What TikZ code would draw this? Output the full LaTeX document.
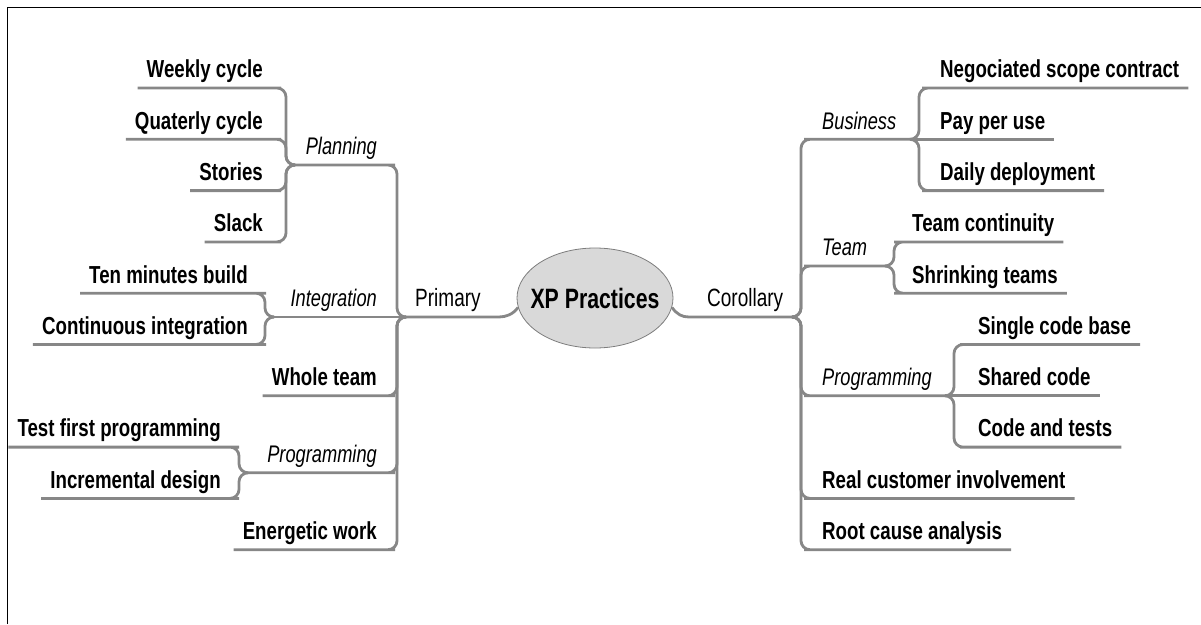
\documentclass[tikz,border=0pt]{standalone}
\usepackage{fontspec}
\setmainfont{Liberation Sans}[FakeStretch=0.76]
\usetikzlibrary{shapes.geometric}
\definecolor{linegray}{RGB}{135,135,135}
\definecolor{hubfill}{RGB}{217,217,217}
\definecolor{hubdraw}{RGB}{125,125,125}
\newcommand{\leaffont}{\fontsize{24.6}{28}\selectfont\bfseries}
\newcommand{\branchfont}{\fontsize{24}{28}\selectfont\itshape}
\newcommand{\firstfont}{\fontsize{25}{29}\selectfont}
\newcommand{\hubfont}{\fontsize{28}{32}\selectfont\bfseries}
\tikzstyle{leaf} = [font=\leaffont, inner xsep=9pt, inner ysep=5pt, text height=17pt, text depth=5pt]
\tikzstyle{branch} = [leaf, font=\branchfont]
\tikzstyle{first_level} = [leaf, font=\firstfont]
\tikzstyle{link} = [draw=linegray, line width=2.8pt, rounded corners=9pt]
\tikzstyle{hub} = [ellipse, draw=hubdraw, thick, fill=hubfill, minimum width=156pt, minimum height=100pt, inner sep=0pt, font=\hubfont]

\begin{document}
\begin{tikzpicture}[x=1pt,y=-1pt]
\useasboundingbox (0,0) rectangle (1201,624);
\draw[line width=1.6pt] (7.5,624) -- (7.5,7.5) -- (1201,7.5);

\node[hub] (xp) at (595,298) {\makebox[0pt]{XP Practices}};

% primary practices
\coordinate (primary_j) at (406,317);
\node[first_level,anchor=south west] (primary) at (406,317) {Primary};
\draw[link] (primary_j) -- (primary.south east) .. controls +(16,0) and +(-5,7) .. (xp.187);

\coordinate (planning_j) at (295,165);
\node[branch,anchor=south east] (planning) at (386,165) {Planning};
\draw[link] (primary_j) -- ++(-9,0) |- (planning.south east) -- (planning_j);
\node[leaf,anchor=south east] (weekly) at (272,88) {Weekly cycle};
\node[leaf,anchor=south east] (quaterly) at (272,139.3) {Quaterly cycle};
\node[leaf,anchor=south east] (stories) at (272,190.6) {Stories};
\node[leaf,anchor=south east] (slack) at (272,241.9) {Slack};
\draw[link] (planning_j) -- ++(-9,0) |- (weekly.south east) -- (weekly.south west);
\draw[link] (planning_j) -- ++(-9,0) |- (quaterly.south east) -- (quaterly.south west);
\draw[link] (planning_j) -- ++(-9,0) |- (stories.south east) -- (stories.south west);
\draw[link] (planning_j) -- ++(-9,0) |- (slack.south east) -- (slack.south west);

\coordinate (integration_j) at (274,317);
\node[branch,anchor=south east] (integration) at (386,317) {Integration};
\draw[link] (primary_j) -- (integration.south east) -- (integration_j);
\node[leaf,anchor=south east] (ten_minutes) at (257,293.2) {Ten minutes build};
\node[leaf,anchor=south east] (continuous) at (257,344.5) {Continuous integration};
\draw[link] (integration_j) -- ++(-9,0) |- (ten_minutes.south east) -- (ten_minutes.south west);
\draw[link] (integration_j) -- ++(-9,0) |- (continuous.south east) -- (continuous.south west);

\node[leaf,anchor=south east] (whole_team) at (386,395.8) {Whole team};
\draw[link] (primary_j) -- ++(-9,0) |- (whole_team.south east) -- (whole_team.south west);

\coordinate (programming_l_j) at (248,472.8);
\node[branch,anchor=south east] (programming_l) at (386,472.8) {Programming};
\draw[link] (primary_j) -- ++(-9,0) |- (programming_l.south east) -- (programming_l_j);
\node[leaf,anchor=south east] (test_first) at (230,447.1) {Test first programming};
\node[leaf,anchor=south east] (incremental) at (230,498.4) {Incremental design};
\draw[link] (programming_l_j) -- ++(-9,0) |- (test_first.south east) -- (test_first.south west);
\draw[link] (programming_l_j) -- ++(-9,0) |- (incremental.south east) -- (incremental.south west);

\node[leaf,anchor=south east] (energetic) at (386,549.7) {Energetic work};
\draw[link] (primary_j) -- ++(-9,0) |- (energetic.south east) -- (energetic.south west);

% corollary practices
\coordinate (corollary_j) at (792,317);
\node[first_level,anchor=south west] (corollary) at (698,317) {Corollary};
\draw[link] (xp.-7) .. controls +(5,7) and +(-16,0) .. (corollary.south west) -- (corollary_j);

\coordinate (business_j) at (910,139.3);
\node[branch,anchor=south west] (business) at (813,139.3) {Business};
\draw[link] (corollary_j) -- ++(9,0) |- (business.south west) -- (business_j);
\node[leaf,anchor=south west] (negociated) at (931,88) {Negociated scope contract};
\node[leaf,anchor=south west] (pay) at (931,139.3) {Pay per use};
\node[leaf,anchor=south west] (daily) at (931,190.6) {Daily deployment};
\draw[link] (business_j) -- ++(9,0) |- (negociated.south west) -- (negociated.south east);
\draw[link] (business_j) -- (pay.south east);
\draw[link] (business_j) -- ++(9,0) |- (daily.south west) -- (daily.south east);

\coordinate (team_j) at (885,266);
\node[branch,anchor=south west] (team) at (813,266) {Team};
\draw[link] (corollary_j) -- ++(9,0) |- (team.south west) -- (team_j);
\node[leaf,anchor=south west] (continuity) at (903,241.9) {Team continuity};
\node[leaf,anchor=south west] (shrinking) at (903,293.2) {Shrinking teams};
\draw[link] (team_j) -- ++(9,0) |- (continuity.south west) -- (continuity.south east);
\draw[link] (team_j) -- ++(9,0) |- (shrinking.south west) -- (shrinking.south east);

\coordinate (programming_r_j) at (945,395.8);
\node[branch,anchor=south west] (programming_r) at (813,395.8) {Programming};
\draw[link] (corollary_j) -- ++(9,0) |- (programming_r.south west) -- (programming_r_j);
\node[leaf,anchor=south west] (single_code) at (969,344.5) {Single code base};
\node[leaf,anchor=south west] (shared_code) at (969,395.8) {Shared code};
\node[leaf,anchor=south west] (code_tests) at (969,447.1) {Code and tests};
\draw[link] (programming_r_j) -- ++(9,0) |- (single_code.south west) -- (single_code.south east);
\draw[link] (programming_r_j) -- (shared_code.south east);
\draw[link] (programming_r_j) -- ++(9,0) |- (code_tests.south west) -- (code_tests.south east);

\node[leaf,anchor=south west] (real_customer) at (813,498.4) {Real customer involvement};
\node[leaf,anchor=south west] (root_cause) at (813,549.7) {Root cause analysis};
\draw[link] (corollary_j) -- ++(9,0) |- (real_customer.south west) -- (real_customer.south east);
\draw[link] (corollary_j) -- ++(9,0) |- (root_cause.south west) -- (root_cause.south east);
\end{tikzpicture}
\end{document}
